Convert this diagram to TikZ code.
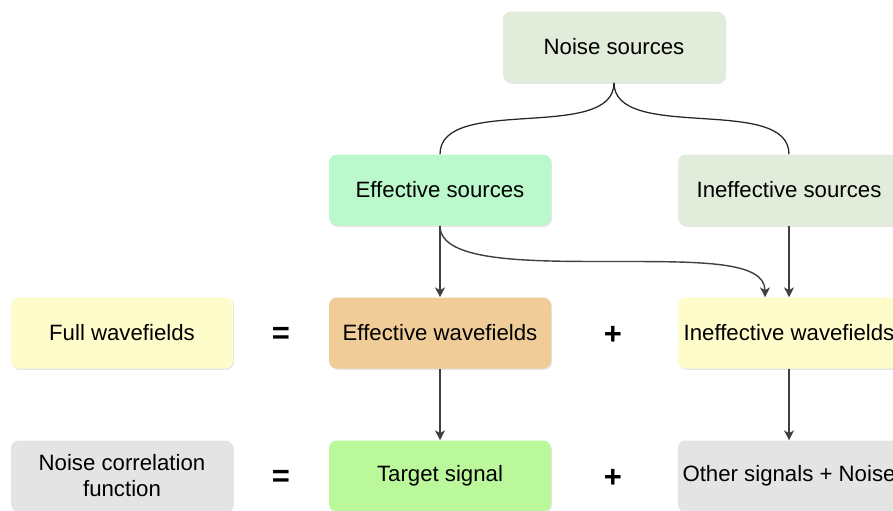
\documentclass[tikz,border=0pt]{standalone}
\usepackage{fontspec}
\setmainfont{Liberation Sans}
\usetikzlibrary{arrows.meta, positioning, calc, shadows}
\definecolor{srcgray}{RGB}{225,236,218}
\definecolor{srcmint}{RGB}{187,249,205}
\definecolor{wavyel}{RGB}{255,252,204}
\definecolor{wavtan}{RGB}{240,204,153}
\definecolor{sigrey}{RGB}{228,228,228}
\definecolor{siglime}{RGB}{187,248,156}
\definecolor{arrowgray}{RGB}{64,64,64}

\begin{document}
\begin{tikzpicture}[
        bx/.style={fill=#1, rounded corners=5.5pt, minimum width=5.55cm,
                   minimum height=1.775cm, align=center,
                   font=\fontsize{15.8}{18.5}\selectfont,
                   drop shadow={shadow xshift=0.7pt, shadow yshift=-0.9pt, opacity=0.2}},
        op/.style={font=\fontsize{22}{22}\selectfont\bfseries},
        arr/.style={-{Stealth[length=7pt, width=7pt, inset=2pt]}, line width=1pt, arrowgray},
        lnk/.style={line width=0.9pt, black!85}
      ]
        \clip (0,0) rectangle (22.325,-12.75);
        % sources
        \node[bx=srcgray] (NS)  at (15.35,-1.175) {Noise sources};
        \node[bx=srcmint] (ES)  at (11,-4.75)     {Effective sources};
        \node[bx=srcgray] (IS)  at (19.725,-4.75) {Ineffective sources};
        % wavefields
        \node[bx=wavyel]  (FW)  at (3.05,-8.325)   {Full wavefields};
        \node[op]         (EQ1) at (7.025,-8.375)  {=};
        \node[bx=wavtan]  (EW)  at (11,-8.325)     {Effective wavefields};
        \node[op]         (PL1) at (15.325,-8.375) {+};
        \node[bx=wavyel]  (IW)  at (19.725,-8.325) {Ineffective wavefields};
        % correlation
        \node[bx=sigrey]  (NCF) at (3.05,-11.9)    {Noise correlation\\function};
        \node[op]         (EQ2) at (7.025,-11.95)  {=};
        \node[bx=siglime] (TS)  at (11,-11.9)      {Target signal};
        \node[op]         (PL2) at (15.325,-11.95) {+};
        \node[bx=sigrey]  (OS)  at (19.725,-11.9)  {Other signals + Noise};
        % split of the noise sources
        \draw[lnk] (NS.south) .. controls +(0,-1.5) and +(0,1.5) .. (ES.north);
        \draw[lnk] (NS.south) .. controls +(0,-1.5) and +(0,1.5) .. (IS.north);
        % arrows
        \draw[arr] (ES) -- (EW);
        \draw[arr] (IS) -- (IW);
        \draw[arr] (EW) -- (TS);
        \draw[arr] (IW) -- (OS);
        \draw[arr] (ES.south) .. controls +(0,-0.9) and +(-2.2,0) .. ($(ES.south)!0.5!(IW.north)$)
          .. controls +(2.2,0) and +(0,0.9) .. ([xshift=-0.6cm]IW.north);
      \end{tikzpicture}
\end{document}
